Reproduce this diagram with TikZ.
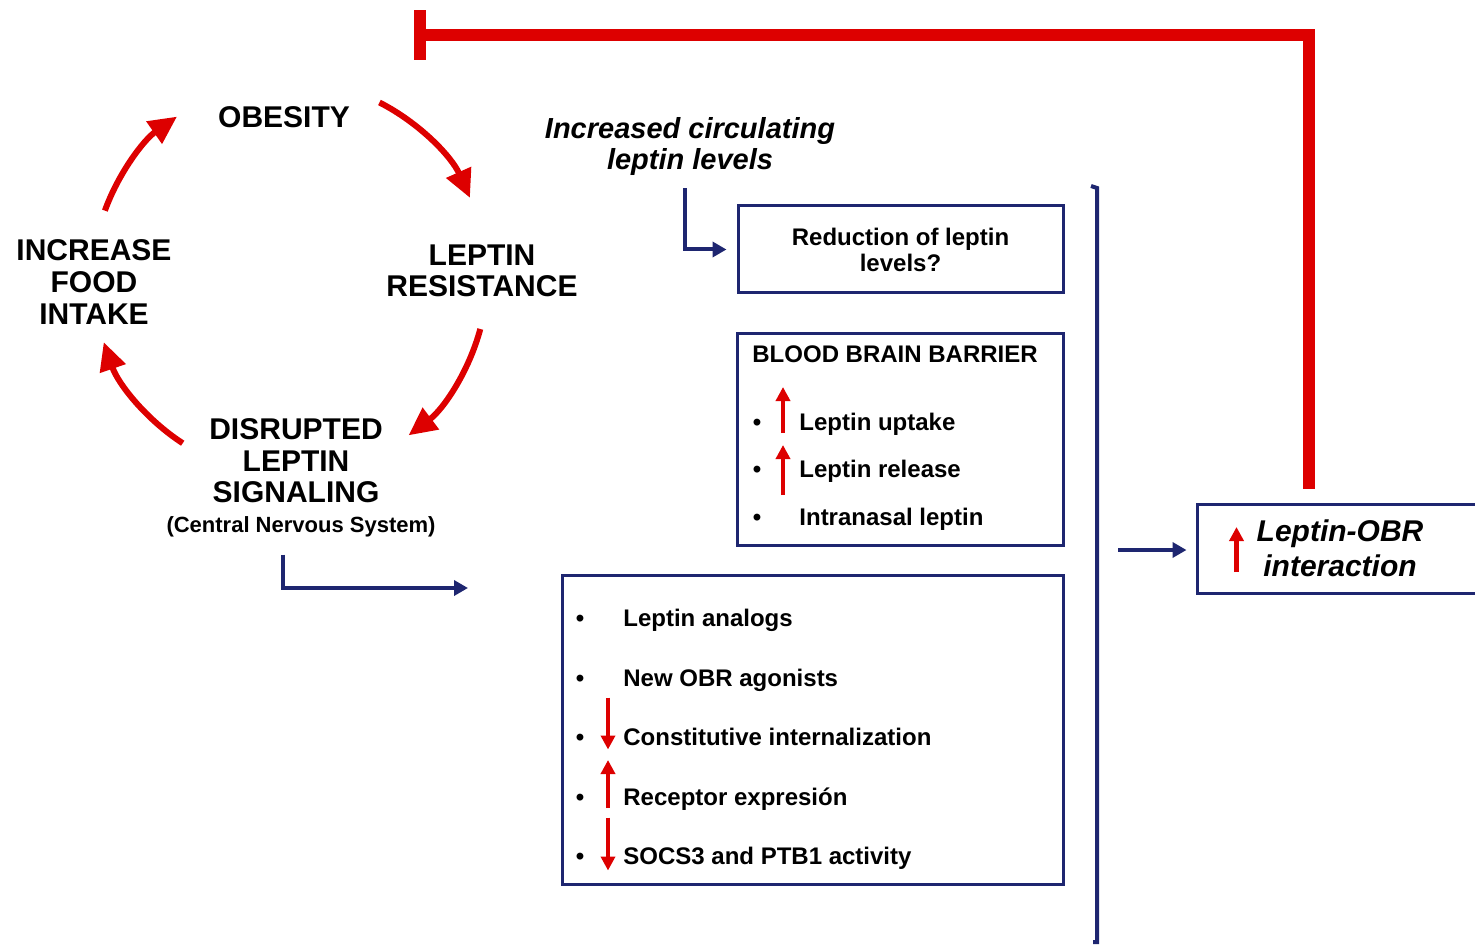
\documentclass[tikz,border=0pt]{standalone}
\usepackage{fontspec}
\setmainfont{Liberation Sans}
\usetikzlibrary{arrows.meta, positioning}
\definecolor{leptred}{RGB}{221,0,0}
\definecolor{navyblue}{RGB}{30,38,112}

\begin{document}
\begin{tikzpicture}[x=0.5pt, y=0.5pt,
    cyclbl/.style={font=\bfseries\fontsize{15}{15.8}\selectfont, align=center, inner sep=1pt},
    cycarr/.style={leptred, line width=3pt, -{Triangle[length=14pt, width=13pt]}},
    panel/.style={draw=navyblue, line width=1.5pt, inner sep=0pt},
    item/.style={font=\bfseries\fontsize{12}{13}\selectfont, anchor=base west, inner sep=0pt},
    elbow/.style={navyblue, line width=2pt, -{Triangle[length=7pt, width=7.5pt]}},
    redarr/.style={leptred, line width=2.3pt, -{Triangle[length=7pt, width=7pt]}},
    inhib/.style={leptred, line width=6pt, -{Bar[width=25pt]}}]
  \useasboundingbox (0,0) rectangle (1475,-946);

  % vicious cycle
  \node[cyclbl] (ob) at (284,-117) {OBESITY};
  \node[cyclbl] (lr) at (482,-271) {LEPTIN\\RESISTANCE};
  \node[cyclbl] (dls) at (296,-461) {DISRUPTED\\LEPTIN\\SIGNALING};
  \node[font=\bfseries\fontsize{11}{12}\selectfont, inner sep=1pt] (cns) at (301,-527) {(Central Nervous System)};
  \node[cyclbl] (ifi) at (94,-282) {INCREASE\\FOOD\\INTAKE};
  \coordinate (cyc) at (290,-278);
  \foreach \a/\b in {160/125, 63/24, -15/-53, 237/199}
    \draw[cycarr] ([shift={(\a:197)}]cyc) arc[start angle=\a, end angle=\b, radius=197];

  % leptin levels
  \node[font=\bfseries\itshape\fontsize{14.5}{15.5}\selectfont, align=center, inner sep=1pt] (icl) at (690,-147) {Increased circulating\\leptin levels};
  \node[panel, minimum width=162.5pt, minimum height=43.5pt, align=center,
        font=\bfseries\fontsize{12}{13}\selectfont] (red) at (900.5,-249.5) {Reduction of leptin\\levels?};
  \draw[elbow, shorten <=5pt, shorten >=5pt] ([xshift=-2.5pt]icl.south) |- (red.west);

  % blood brain barrier
  \node[panel, minimum width=163pt, minimum height=106pt] (bbb) at (900,-439.5) {};
  \node[item] (bbbt) at (752,-362) {BLOOD BRAIN BARRIER};
  \node[item] (upt) at (799,-430) {Leptin uptake};
  \node[item] (rel) at (799,-477) {Leptin release};
  \node[item] (nas) at (799,-525) {Intranasal leptin};
  \foreach \n in {upt, rel, nas}
    \node[item, anchor=base] at ([xshift=-21pt]\n.base west) {•};
  \draw[redarr] ([shift={(-8pt,-1.5pt)}]upt.base west) -- ++(0,46);
  \draw[redarr] ([shift={(-8pt,-9pt)}]rel.base west) -- ++(0,50);

  % receptor targets
  \node[panel, minimum width=250.5pt, minimum height=154.5pt] (ther) at (812.5,-729.5) {};
  \foreach \t [count=\i] in {Leptin analogs, New OBR agonists, Constitutive internalization,
                             Receptor expresión, SOCS3 and PTB1 activity} {
    \node[item] (it\i) at (623,{-567-59.5*\i}) {\t};
    \node[item, anchor=base] at ([xshift=-21.5pt]it\i.base west) {•};
  }
  \draw[redarr] ([shift={(-7.5pt,24pt)}]it3.base west) -- ++(0,-52);
  \draw[redarr] ([shift={(-7.5pt,-1.5pt)}]it4.base west) -- ++(0,48);
  \draw[redarr] ([shift={(-7.5pt,23.5pt)}]it5.base west) -- ++(0,-53);

  \coordinate (dlsout) at (468,-588);
  \draw[elbow, shorten <=7.5pt] ([xshift=-9pt]cns.south) |- (dlsout);

  % bracket and outcome
  \coordinate (brtop) at (1097,-188);
  \coordinate (brbot) at (1097,-942);
  \draw[navyblue, line width=2pt] ([shift={(-3pt,1pt)}]brtop) -- (brtop) -- (brbot) -- ([xshift=-2pt]brbot);
  \node[panel, minimum width=141.5pt, minimum height=44.5pt] (lob) at (1338.5,-548.5) {};
  \node[font=\bfseries\itshape\fontsize{15}{17.5}\selectfont, align=center, inner sep=0pt] (lobt) at (1340,-548) {Leptin-OBR\\interaction};
  \draw[redarr] ([shift={(20.5pt,-11.75pt)}]lob.west) -- ++(0,45);
  \coordinate (brmid) at (1097,-550);
  \draw[elbow, shorten <=10.5pt, shorten >=4.5pt] (brmid) -- (brmid -| lob.west);

  % feedback inhibition
  \coordinate (blk) at (414,-35);
  \draw[inhib] ([xshift=-15pt, yshift=7pt]lob.north) |- (blk);
\end{tikzpicture}
\end{document}
